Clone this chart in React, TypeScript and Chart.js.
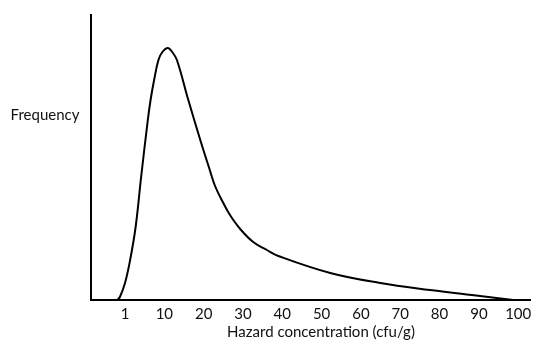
import React, { useEffect, useRef } from "react";
import { Chart, registerables } from "chart.js";

Chart.register(...registerables);

// concentration positions (axis units, label "1" sits at position 0)
const xValues = [-2.0, -1.3, 0, 1.3, 2.7, 4.1, 5.8, 6.5, 7.4, 8.5, 9.5, 10.9, 12.0, 13.2, 16.1, 19.3, 21.4, 22.9, 25.0, 26.7, 29.3, 32.6, 36.1, 39.0, 52.2, 64.9, 77.6, 90.3, 98.7];
const frequency = [0, 3, 17, 40, 73, 123, 180, 200, 220, 240, 248, 252, 248, 240, 200, 158, 132, 114, 97, 85, 71, 58, 50, 44, 27, 17, 10, 4, 0];
const tickPositions = [0, 10, 20, 30, 40, 50, 60, 70, 80, 90, 100];
const tickLabels = ["1", "10", "20", "30", "40", "50", "60", "70", "80", "90", "100"];
const xTitle = "Hazard concentration (cfu/g)";
const yTitle = "Frequency";

const FONT = "Lato, 'Open Sans', sans-serif";

export default function App() {
  const ref = useRef<HTMLCanvasElement | null>(null);
  useEffect(() => {
    if (!ref.current) return;
    const textPlugin = {
      id: "labels",
      afterDraw(chart: any) {
        const ctx = chart.ctx;
        ctx.save();
        ctx.fillStyle = "#111";
        ctx.font = "15px " + FONT;
        ctx.textAlign = "center";
        ctx.textBaseline = "middle";
        ctx.fillText(yTitle, 45, 115);
        ctx.fillText(xTitle, 321, 332);
        ctx.restore();
      },
    };
    const chart = new Chart(ref.current, {
      type: "line",
      data: {
        datasets: [
          {
            data: xValues.map((x, i) => ({ x, y: frequency[i] })),
            borderColor: "#000",
            borderWidth: 2,
            pointRadius: 0,
            tension: 0.4,
            fill: false,
          },
        ],
      },
      options: {
        animation: false,
        responsive: false,
        layout: { padding: { left: 91, top: 15, right: 28, bottom: 0 } },
        plugins: { legend: { display: false }, tooltip: { enabled: false } },
        scales: {
          x: {
            type: "linear",
            min: -8.65,
            max: 103,
            afterBuildTicks: (scale: any) => {
              scale.ticks = tickPositions.map((v) => ({ value: v }));
            },
            afterFit: (scale: any) => {
              scale.height = 51;
            },
            ticks: {
              callback: (v: any) => {
                const i = tickPositions.indexOf(Number(v));
                return i >= 0 ? tickLabels[i] : "";
              },
              color: "#111",
              font: { family: FONT, size: 15 },
              padding: 5,
              maxRotation: 0,
              autoSkip: false,
            },
            grid: { display: false, drawTicks: false },
            border: { display: true, color: "#000", width: 2 },
          },
          y: {
            min: 0,
            max: 285,
            afterFit: (scale: any) => {
              scale.width = 0;
            },
            ticks: { display: false },
            grid: { display: false, drawTicks: false },
            border: { display: true, color: "#000", width: 2 },
          },
        },
      },
      plugins: [textPlugin],
    } as any);
    return () => chart.destroy();
  }, []);
  return (
    <div style={{ position: "fixed", left: 0, top: 0, width: 558, height: 351, background: "#fff" }}>
      <canvas ref={ref} width={558} height={351} style={{ width: 558, height: 351, display: "block" }} />
    </div>
  );
}
